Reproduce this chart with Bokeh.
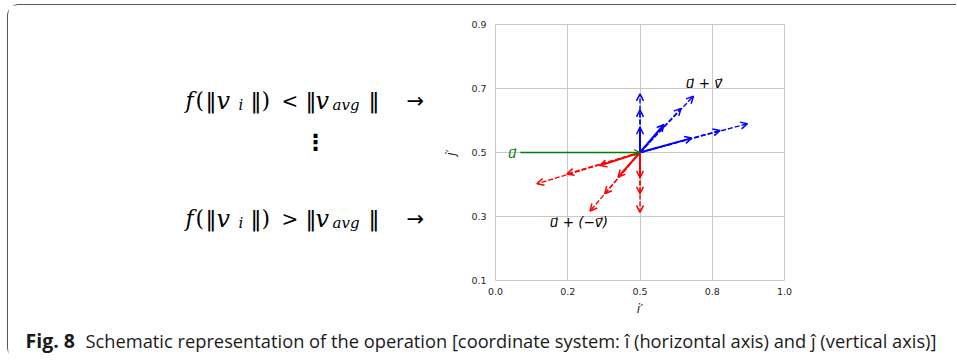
from bokeh.plotting import figure
from bokeh.layouts import column, row
from bokeh.models import Arrow, OpenHead, Label, FixedTicker, Range1d
from bokeh.embed import file_html
from bokeh.resources import INLINE

# ---------------- data ----------------
origin = (0.5, 0.5)
# blue (u + v) arrow tips: [solid, dashed, dashed]
blue_up_x = [0.5, 0.5, 0.5]
blue_up_y = [0.579, 0.633, 0.683]
blue_diag_x = [0.583, 0.642, 0.685]
blue_diag_y = [0.5875, 0.638, 0.676]
blue_flat_x = [0.679, 0.777, 0.872]
blue_flat_y = [0.545, 0.569, 0.590]
# red (u + (-v)) arrow tips
red_down_x = [0.5, 0.5, 0.5]
red_down_y = [0.421, 0.371, 0.313]
red_diag_x = [0.424, 0.378, 0.327]
red_diag_y = [0.423, 0.371, 0.317]
red_left_x = [0.361, 0.247, 0.143]
red_left_y = [0.459, 0.433, 0.402]
# green u vector
green_start = (0.086, 0.5)

x_ticks = [0.0, 0.25, 0.5, 0.75, 1.0]
x_tick_labels = ["0.0", "0.2", "0.5", "0.8", "1.0"]
y_ticks = [0.1, 0.3, 0.5, 0.7, 0.9]
y_tick_labels = ["0.1", "0.3", "0.5", "0.7", "0.9"]

caption_bold = "Fig. 8"
caption_text = "Schematic representation of the operation [coordinate system: \u00ee (horizontal axis) and \u0135 (vertical axis)]"

# ---------------- page layout (page pixels) ----------------
OX, OY = 8, 5                  # content origin inside the css border
CONT_W, CONT_H = 948, 354
ROW_BOTTOM = 318
MID_H = ROW_BOTTOM - OY
CAP_H = CONT_H - MID_H
CHART_X0 = 440                 # page x where chart figure starts
LEFT_W = CHART_X0 - OX
F_LEFT, F_TOP, F_RIGHT, F_BOTTOM = 493, 24, 784, 280   # chart frame on the page
FW, FH = F_RIGHT - F_LEFT, F_BOTTOM - F_TOP


def lab(f, text, px, py, size, font="DejaVu Sans", style="normal", color="black",
        align="left", baseline="alphabetic"):
    f.add_layout(Label(x=px, y=py, text=text, text_font=font, text_font_style=style,
                       text_font_size=size, text_color=color, text_align=align,
                       text_baseline=baseline))


def blank(w, h, xr, yr, **kw):
    f = figure(width=w, height=h, output_backend="svg", toolbar_location=None,
               x_range=xr, y_range=yr, x_axis_location=None, y_axis_location=None, **kw)
    f.outline_line_color = None
    f.grid.visible = False
    f.background_fill_color = "white"
    f.border_fill_color = "white"
    return f


# ---- left formulas (frame aligned with chart frame, page-pixel ranges)
left = blank(LEFT_W, MID_H, Range1d(OX, CHART_X0), Range1d(F_BOTTOM, F_TOP),
             min_border_left=0, min_border_right=0, min_border_top=F_TOP - OY,
             min_border_bottom=ROW_BOTTOM - F_BOTTOM)
SERIF = "DejaVu Serif"
SANS = "DejaVu Sans"
pieces = [("f", 185, SERIF, "italic", 22, 0), ("(", 195, SERIF, "normal", 22, 0),
          ("\u2016", 205, SANS, "normal", 22, 0), ("v", 216, SERIF, "italic", 24, 0),
          ("i", 238, SERIF, "italic", 15, 4), ("\u2016", 250, SANS, "normal", 22, 0),
          (")", 261, SERIF, "normal", 22, 0), ("REL", 281, SERIF, "normal", 20, 0),
          ("\u2016", 305, SANS, "normal", 22, 0), ("v", 315, SERIF, "italic", 24, 0),
          ("avg", 332, SERIF, "italic", 15, 4), ("\u2016", 368, SANS, "normal", 22, 0),
          ("\u2192", 406, SANS, "normal", 21, 0)]
for base, rel in ((100, "<"), (218, ">")):
    for t, px, fnt, st, sz, dy in pieces:
        lab(left, rel if t == "REL" else t, px, base + dy, f"{sz}px", font=fnt, style=st)
lab(left, "\u22ee", 315, 142, "22px", style="bold", align="center", baseline="middle")

# ---- chart
CW = CONT_W - LEFT_W
p = figure(width=CW, height=MID_H, output_backend="svg", toolbar_location=None,
           x_range=Range1d(0, 1), y_range=Range1d(0.1, 0.9),
           min_border_left=F_LEFT - CHART_X0, min_border_right=CW - (F_LEFT - CHART_X0) - FW,
           min_border_top=F_TOP - OY, min_border_bottom=ROW_BOTTOM - F_BOTTOM)
p.background_fill_color = "white"
p.border_fill_color = "white"
p.outline_line_color = "#c8c8c8"
p.outline_line_width = 1

for ax, ticks, labels in ((p.xaxis[0], x_ticks, x_tick_labels), (p.yaxis[0], y_ticks, y_tick_labels)):
    ax.ticker = FixedTicker(ticks=ticks)
    ax.major_label_overrides = {t: l for t, l in zip(ticks, labels)}
    ax.axis_line_color = None
    ax.major_tick_line_color = None
    ax.minor_tick_line_color = None
    ax.major_tick_out = 0
    ax.major_tick_in = 0
    ax.major_label_text_font = "DejaVu Sans"
    ax.major_label_text_font_size = "9.5px"
    ax.major_label_text_color = "#262626"
    ax.axis_label_text_font = "DejaVu Sans"
    ax.axis_label_text_font_style = "italic"
    ax.axis_label_text_font_size = "12.5px"
    ax.axis_label_text_color = "#262626"
p.xaxis[0].major_label_standoff = 7
p.yaxis[0].major_label_standoff = 9
p.xaxis[0].axis_label = "i\u2032"
p.yaxis[0].axis_label = "j\u2032"
p.xaxis[0].axis_label_standoff = 3
p.yaxis[0].axis_label_standoff = 10

p.xgrid.ticker = FixedTicker(ticks=x_ticks)
p.ygrid.ticker = FixedTicker(ticks=y_ticks)
p.grid.grid_line_color = "#c8c8c8"
p.grid.grid_line_width = 1


def add_arrows(xs, ys, color):
    # dashed (longer) arrows first, solid arrow on top
    for i in (2, 1, 0):
        solid = (i == 0)
        head = OpenHead(size=7, line_color=color, line_width=1.5)
        p.add_layout(Arrow(end=head, x_start=origin[0], y_start=origin[1], x_end=xs[i], y_end=ys[i],
                           line_color=color, line_width=2 if solid else 1.4,
                           line_dash="solid" if solid else "5 2"))


for xs, ys, c in ((blue_up_x, blue_up_y, "#0000ff"), (blue_diag_x, blue_diag_y, "#0000ff"),
                  (blue_flat_x, blue_flat_y, "#0000ff"), (red_down_x, red_down_y, "#ff0000"),
                  (red_diag_x, red_diag_y, "#ff0000"), (red_left_x, red_left_y, "#ff0000")):
    add_arrows(xs, ys, c)

p.add_layout(Arrow(end=OpenHead(size=6, line_color="#008000", line_width=1.2),
                   x_start=green_start[0], y_start=green_start[1], x_end=origin[0], y_end=origin[1],
                   line_color="#008000", line_width=1.5))


def X(px):
    return (px - F_LEFT) / FW


def Y(py):
    return 0.9 - (py - F_TOP) / FH * 0.8


lab(p, "u\u20d7 + v\u20d7", X(703), Y(82), "13.5px", style="italic", align="center", baseline="middle")
lab(p, "u\u20d7 + (\u2212v\u20d7)", X(577), Y(221), "13.5px", style="italic", align="center", baseline="middle")
lab(p, "u\u20d7", X(510), Y(152), "13.5px", style="italic", color="#008000", align="center", baseline="middle")

# ---- caption
cap = blank(CONT_W, CAP_H, Range1d(OX, OX + CONT_W), Range1d(OY + CONT_H, ROW_BOTTOM), min_border=0)
lab(cap, caption_bold, 25, 340, "19.5px", font="Open Sans", style="bold", color="#1a1a1a")
lab(cap, caption_text, 85, 340, "18.3px", font="Open Sans", color="#1a1a1a")

layout = column(row(left, p, spacing=0), cap, spacing=0,
                styles={"border-left": "1.5px solid #555555", "border-top": "1.5px solid #555555",
                        "border-top-left-radius": "12px", "border-bottom-left-radius": "12px",
                        "margin-left": "6.5px", "margin-top": "3.5px"})
open("out.html", "w").write(file_html(layout, INLINE))
